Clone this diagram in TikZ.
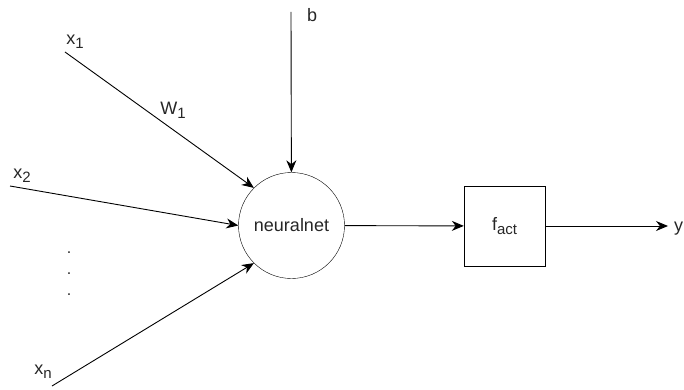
\documentclass[tikz,border=0pt]{standalone}
\usepackage{fontspec}
\setmainfont{Liberation Sans}
\usetikzlibrary{arrows.meta, positioning}

% draw.io style subscript
\newcommand{\lowsub}[1]{\raisebox{-0.45ex}{\fontsize{15}{17}\selectfont #1}}

\begin{document}
\begin{tikzpicture}[
  x=1pt, y=-1pt,
  every node/.style={font=\fontsize{18}{21}\selectfont, text=black!85},
  neuron/.style={draw, circle, minimum size=106pt, inner sep=0pt},
  actbox/.style={draw, minimum width=81pt, minimum height=80pt, inner sep=0pt},
  lbl/.style={inner sep=0pt},
  conn/.style={-{Stealth[length=12pt, width=10pt]}, line width=0.9pt}
]
  \useasboundingbox (0,0) rectangle (684,390);

  % main blocks
  \node[neuron] (net) at (291.5,225.5) {neuralnet};
  \node[actbox] (act) at (504.5,226) {f\lowsub{act}};

  % labels
  \node[lbl] (b)   at (312,15)  {b};
  \node[lbl] (x1)  at (75,42)   {x\lowsub{1}};
  \node[lbl] (w1)  at (173,110) {W\lowsub{1}};
  \node[lbl] (x2)  at (22,176)  {x\lowsub{2}};
  \node[lbl] (xn)  at (43,372)  {x\lowsub{n}};
  \node[lbl, anchor=west] (y) at (674,229) {y};
  \node[lbl, align=center, font=\fontsize{16}{21}\selectfont] (dots) at (69,274) {.\\.\\.};

  % free ends of the inputs
  \coordinate (bs)  at (291,12);
  \coordinate (x1s) at (65,52);
  \coordinate (x2s) at (10,186);
  \coordinate (xns) at (52,386);
  \coordinate (ye)  at (668,226);

  \draw[conn] (bs)  -- (net);
  \draw[conn] (x1s) -- (net.135);
  \draw[conn] (x2s) -- (net.west);
  \draw[conn] (xns) -- (net.225);
  \draw[conn] (net) -- (act);
  \draw[conn] (act) -- (ye);
\end{tikzpicture}
\end{document}
